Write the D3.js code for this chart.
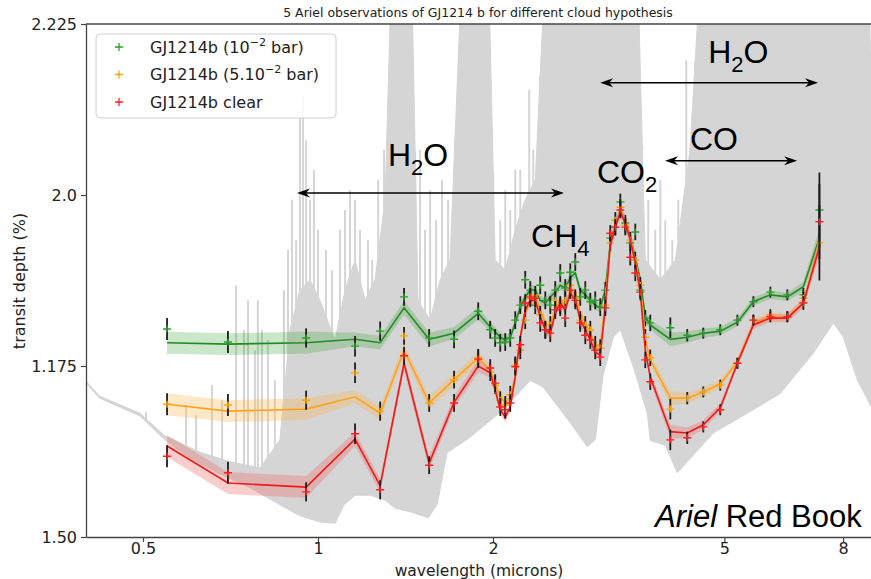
<!DOCTYPE html>
<html>
<head>
<meta charset="utf-8">
<script src="https://cdn.jsdelivr.net/npm/d3@7"></script>
<style>
  body { margin: 0; background: #fff; }
  svg { display: block; }
</style>
</head>
<body>
<svg id="chart" width="871" height="579"></svg>
<script>
// ---- Ariel spectral bins (microns) ----
const wavelengths = [
  0.550, 0.700, 0.954, 1.158, 1.279, 1.406, 1.553, 1.714, 1.886,
  1.978, 2.017, 2.058, 2.099, 2.141, 2.184, 2.228, 2.272, 2.318, 2.364, 2.411,
  2.460, 2.509, 2.559, 2.610, 2.662, 2.716, 2.770, 2.825, 2.882, 2.940, 2.998,
  3.058, 3.120, 3.182, 3.246, 3.311, 3.377, 3.444, 3.513, 3.584, 3.655, 3.728,
  4.036, 4.316, 4.599, 4.919, 5.264, 5.608, 5.998, 6.416, 6.835, 7.284
];

// ---- model transit depths (%) ----
const modelCloud1e2 = [
  1.784, 1.782, 1.784, 1.789, 1.784, 1.835, 1.789, 1.798, 1.827,
  1.807, 1.800, 1.792, 1.788, 1.792, 1.813, 1.836, 1.851, 1.861, 1.861, 1.846,
  1.842, 1.851, 1.858, 1.868, 1.864, 1.879, 1.886, 1.861, 1.854, 1.846, 1.839,
  1.835, 1.861, 1.930, 1.956, 1.978, 1.963, 1.939, 1.909, 1.876, 1.822, 1.810,
  1.789, 1.792, 1.798, 1.801, 1.814, 1.844, 1.854, 1.851, 1.866, 1.937
];
const modelCloud5e2 = [
  1.694, 1.684, 1.687, 1.705, 1.681, 1.773, 1.696, 1.730, 1.762,
  1.744, 1.725, 1.705, 1.696, 1.705, 1.734, 1.792, 1.827, 1.846, 1.851, 1.832,
  1.813, 1.807, 1.836, 1.846, 1.839, 1.861, 1.857, 1.827, 1.813, 1.798, 1.781,
  1.778, 1.846, 1.927, 1.956, 1.978, 1.962, 1.937, 1.905, 1.868, 1.788, 1.759,
  1.703, 1.703, 1.712, 1.724, 1.756, 1.813, 1.822, 1.822, 1.842, 1.927
];
const modelClear = [
  1.633, 1.579, 1.573, 1.643, 1.575, 1.754, 1.608, 1.697, 1.750,
  1.740, 1.715, 1.686, 1.675, 1.690, 1.734, 1.792, 1.832, 1.846, 1.846, 1.822,
  1.803, 1.798, 1.827, 1.842, 1.832, 1.857, 1.846, 1.817, 1.803, 1.788, 1.770,
  1.766, 1.835, 1.927, 1.953, 1.975, 1.959, 1.934, 1.901, 1.857, 1.773, 1.734,
  1.654, 1.652, 1.664, 1.689, 1.754, 1.810, 1.820, 1.820, 1.842, 1.924
];

// ---- model 1-sigma spread (shaded bands) ----
const modelSpread = [
  0.016, 0.016, 0.016, 0.010, 0.010, 0.010, 0.010, 0.009, 0.009,
  0.007, 0.007, 0.007, 0.007, 0.007, 0.007, 0.007, 0.007, 0.007, 0.007, 0.007,
  0.007, 0.007, 0.007, 0.007, 0.007, 0.007, 0.007, 0.007, 0.007, 0.007, 0.007,
  0.007, 0.007, 0.007, 0.007, 0.007, 0.007, 0.007, 0.007, 0.007, 0.007, 0.007,
  0.010, 0.008, 0.007, 0.006, 0.006, 0.006, 0.006, 0.006, 0.007, 0.014
];

// ---- simulated observations ----
const obsCloud1e2 = [
  1.804, 1.785, 1.791, 1.779, 1.801, 1.851, 1.791, 1.789, 1.830,
  1.803, 1.791, 1.784, 1.785, 1.791, 1.817, 1.839, 1.876, 1.861, 1.839, 1.868,
  1.846, 1.839, 1.861, 1.886, 1.864, 1.887, 1.902, 1.851, 1.861, 1.844, 1.846,
  1.836, 1.861, 1.937, 1.953, 1.990, 1.959, 1.930, 1.946, 1.861, 1.820, 1.813,
  1.806, 1.795, 1.798, 1.803, 1.817, 1.844, 1.858, 1.854, 1.854, 1.978
];
const obsCloud5e2 = [
  1.694, 1.693, 1.700, 1.740, 1.684, 1.794, 1.696, 1.730, 1.762,
  1.741, 1.722, 1.700, 1.693, 1.708, 1.751, 1.773, 1.817, 1.849, 1.854, 1.825,
  1.803, 1.810, 1.846, 1.839, 1.846, 1.868, 1.849, 1.817, 1.810, 1.803, 1.781,
  1.776, 1.839, 1.930, 1.963, 1.982, 1.956, 1.934, 1.905, 1.868, 1.792, 1.762,
  1.687, 1.703, 1.712, 1.722, 1.754, 1.817, 1.825, 1.822, 1.849, 1.930
];
const obsClear = [
  1.618, 1.594, 1.566, 1.651, 1.569, 1.765, 1.605, 1.696, 1.760,
  1.747, 1.725, 1.690, 1.686, 1.696, 1.749, 1.781, 1.842, 1.851, 1.849, 1.813,
  1.803, 1.798, 1.832, 1.836, 1.820, 1.861, 1.846, 1.813, 1.795, 1.788, 1.773,
  1.763, 1.835, 1.944, 1.953, 1.978, 1.953, 1.909, 1.886, 1.858, 1.759, 1.727,
  1.642, 1.645, 1.661, 1.686, 1.754, 1.817, 1.822, 1.822, 1.842, 1.961
];
const obsError = [
  0.016, 0.016, 0.014, 0.015, 0.014, 0.013, 0.013, 0.013, 0.013,
  0.013, 0.013, 0.013, 0.013, 0.013, 0.013, 0.013, 0.013, 0.013, 0.013, 0.013,
  0.013, 0.013, 0.013, 0.013, 0.013, 0.013, 0.013, 0.013, 0.013, 0.013, 0.013,
  0.013, 0.012, 0.012, 0.012, 0.012, 0.012, 0.012, 0.012, 0.012, 0.012, 0.012,
  0.015, 0.009, 0.008, 0.008, 0.008, 0.008, 0.008, 0.008, 0.010, 0.055
];

// ---- high-resolution spectrum (grey): solid envelope plus narrow lines ----
const specTopWl = [
  0.399, 0.421, 0.494, 0.545, 0.627, 0.706, 0.795, 0.860, 0.895, 0.931,
  0.969, 1.008, 1.070, 1.113, 1.158, 1.205, 1.253, 1.304, 1.335, 1.451,
  1.486, 1.559, 1.622, 1.687, 1.762, 1.969, 2.017, 2.099, 2.184, 2.272,
  2.364, 2.449, 3.555, 3.655, 3.879, 4.117, 4.363, 4.528, 8.878, 8.947
];
const specTopDepth = [
  1.728, 1.706, 1.681, 1.648, 1.624, 1.610, 1.601, 1.642, 1.803, 1.861,
  1.876, 1.846, 1.788, 1.861, 1.905, 1.846, 1.876, 1.993, 2.300, 2.300,
  1.846, 1.817, 1.876, 1.905, 2.300, 2.300, 1.905, 1.890, 1.949, 1.993,
  2.022, 2.300, 2.300, 1.905, 1.876, 1.905, 2.066, 2.300, 2.300, 2.124
];
const specBotWl = [
  0.399, 0.421, 0.494, 0.545, 0.602, 0.678, 0.764, 0.860, 0.931, 1.008,
  1.070, 1.109, 1.158, 1.229, 1.304, 1.357, 1.440, 1.547, 1.603, 1.667,
  1.827, 2.082, 2.318, 2.439, 2.716, 2.904, 2.998, 3.094, 3.220, 3.311,
  3.485, 3.684, 3.728, 3.956, 4.149, 4.785, 5.475, 6.241, 7.112, 7.698,
  8.010, 8.467, 8.947
];
const specBotDepth = [
  1.725, 1.703, 1.677, 1.642, 1.615, 1.592, 1.572, 1.547, 1.531, 1.522,
  1.520, 1.547, 1.561, 1.561, 1.554, 1.542, 1.537, 1.528, 1.547, 1.623,
  1.646, 1.686, 1.729, 1.719, 1.667, 1.632, 1.642, 1.737, 1.792, 1.803,
  1.749, 1.681, 1.641, 1.634, 1.594, 1.652, 1.681, 1.710, 1.769, 1.813,
  1.792, 1.729, 1.690
];
const lineWl = [
  0.506, 0.593, 0.617, 0.657, 0.684, 0.723, 0.746, 0.758, 0.779, 0.788,
  0.801, 0.820, 0.843, 0.874, 0.888, 0.902, 0.917, 0.931, 0.942, 0.954,
  0.969, 0.984, 1.000, 1.032, 1.057, 1.091, 1.113, 1.135, 1.158, 1.181,
  1.219, 1.239, 1.269, 1.299, 1.469, 1.498, 1.528, 1.559, 1.596, 1.634,
  1.674, 1.721, 2.001, 2.058, 2.099, 2.141, 2.184, 2.228, 2.308, 2.345,
  2.411, 3.612, 3.698, 3.802, 3.879, 3.956, 4.068, 4.165, 4.299, 4.368,
  4.456
];
const lineDepth = [
  1.683, 1.693, 1.678, 1.722, 1.700, 1.868, 1.803, 1.846, 1.773, 1.846,
  1.803, 1.788, 1.729, 1.861, 1.920, 1.993, 1.934, 2.124, 2.146, 2.080,
  1.993, 2.037, 1.949, 1.920, 1.890, 1.949, 1.978, 2.007, 1.993, 1.949,
  1.934, 1.905, 2.022, 2.066, 1.993, 2.066, 1.949, 2.007, 1.963, 2.022,
  1.993, 2.066, 1.993, 1.963, 2.007, 1.978, 2.037, 2.037, 2.154, 2.066,
  2.095, 2.066, 1.993, 1.949, 2.022, 1.963, 1.934, 1.993, 2.197, 2.022,
  2.110
];

// ---- axis ticks ----
const xTickValues = [0.5, 1, 2, 5, 8];
const xTickLabels = ["0.5", "1", "2", "5", "8"];
const yTickValues = [1.5, 1.75, 2.0, 2.25];
const yTickLabels = ["1.50", "1.175", "2.0", "2.225"];

// ---- molecular band annotations ----
const arrowFrom = [0.920, 3.952, 3.057];
const arrowTo = [2.649, 6.668, 7.244];
const arrowDepth = [2.003, 2.050, 2.164];

// ---- drawing ----
const svg = d3.select("#chart");
const plotL = 86, plotR = 871, plotT = 24, plotB = 537;

const x = d3.scaleLog().domain([0.399, 8.935]).range([plotL, plotR]);
const y = d3.scaleLinear().domain([1.5, 2.25]).range([plotB, plotT]);

svg.append("defs").append("clipPath").attr("id", "plotClip")
  .append("rect").attr("x", plotL).attr("y", plotT)
  .attr("width", plotR - plotL).attr("height", plotB - plotT);

const plot = svg.append("g").attr("clip-path", "url(#plotClip)");
const grey = "#d5d5d5";

// solid part of the high-resolution spectrum
const specPts = specTopWl.map((w, i) => [w, specTopDepth[i]])
  .concat(specBotWl.map((w, i) => [w, specBotDepth[i]]).reverse());
plot.append("path")
  .attr("d", d3.line().x(d => x(d[0])).y(d => y(d[1]))(specPts) + "Z")
  .attr("fill", grey).attr("stroke", grey).attr("stroke-width", 1);

// narrow absorption lines rising from the solid envelope
const topEnvelope = d3.scaleLog().domain(specTopWl).range(specTopDepth);
plot.append("g").selectAll("line").data(lineWl).join("line")
  .attr("x1", d => x(d)).attr("x2", d => x(d))
  .attr("y1", d => y(topEnvelope(d)) + 2)
  .attr("y2", (d, i) => y(lineDepth[i]))
  .attr("stroke", grey).attr("stroke-width", 2);

const series = [
  { label: ["GJ1214b (10", "\u22122", " bar)"], model: modelCloud1e2, obs: obsCloud1e2,
    line: "#238b23", band: "#2ca02c", bandOpacity: 0.25, marker: "#2ca02c" },
  { label: ["GJ1214b (5.10", "\u22122", " bar)"], model: modelCloud5e2, obs: obsCloud5e2,
    line: "#ffa31a", band: "#ffb347", bandOpacity: 0.3, marker: "#ffa500" },
  { label: ["GJ1214b clear"], model: modelClear, obs: obsClear,
    line: "#ee1a1a", band: "#f07070", bandOpacity: 0.35, marker: "#ff2020" }
];

series.forEach(s => {
  const idx = d3.range(wavelengths.length);
  const band = d3.area()
    .x(i => x(wavelengths[i]))
    .y0(i => y(s.model[i] - modelSpread[i]))
    .y1(i => y(s.model[i] + modelSpread[i]));
  plot.append("path").attr("d", band(idx))
    .attr("fill", s.band).attr("fill-opacity", s.bandOpacity);

  const line = d3.line().x(i => x(wavelengths[i])).y(i => y(s.model[i]));
  plot.append("path").attr("d", line(idx))
    .attr("fill", "none").attr("stroke", s.line).attr("stroke-width", 1.6);

  const pts = plot.append("g");
  idx.forEach(i => {
    const px = x(wavelengths[i]);
    pts.append("line")
      .attr("x1", px).attr("x2", px)
      .attr("y1", y(s.obs[i] - obsError[i])).attr("y2", y(s.obs[i] + obsError[i]))
      .attr("stroke", "#1c1c1c").attr("stroke-width", 1.8);
    const py = y(s.obs[i]);
    pts.append("path")
      .attr("d", `M${px - 4},${py}H${px + 4}M${px},${py - 3.5}V${py + 3.5}`)
      .attr("stroke", s.marker).attr("stroke-width", 1.4).attr("fill", "none");
  });
});

// annotations
const ann = svg.append("g").attr("font-family", "'Liberation Sans', Arial, sans-serif").attr("fill", "#000");

arrowFrom.forEach((w, i) => {
  const x1 = x(w), x2 = x(arrowTo[i]), yy = y(arrowDepth[i]);
  ann.append("line").attr("x1", x1 + 6).attr("x2", x2 - 6).attr("y1", yy).attr("y2", yy)
    .attr("stroke", "#000").attr("stroke-width", 1.6);
  ann.append("path")
    .attr("d", `M${x1},${yy}L${x1 + 13},${yy - 4.5}L${x1 + 9},${yy}L${x1 + 13},${yy + 4.5}Z`)
    .attr("fill", "#000");
  ann.append("path")
    .attr("d", `M${x2},${yy}L${x2 - 13},${yy - 4.5}L${x2 - 9},${yy}L${x2 - 13},${yy + 4.5}Z`)
    .attr("fill", "#000");
});

function molecule(w, depth, main, sub, tail) {
  const t = ann.append("text").attr("x", x(w)).attr("y", y(depth)).attr("font-size", 32);
  t.append("tspan").text(main);
  if (sub) t.append("tspan").attr("font-size", 22).attr("dy", 9).text(sub);
  if (tail) t.append("tspan").attr("dy", -9).text(tail);
}
molecule(1.319, 2.043, "H", "2", "O");
molecule(2.325, 1.924, "CH", "4", null);
molecule(3.019, 2.017, "CO", "2", null);
molecule(4.363, 2.066, "CO", null, null);
molecule(4.688, 2.193, "H", "2", "O");

const rb = ann.append("text").attr("x", 655).attr("y", 527).attr("font-size", 31);
rb.append("tspan").attr("font-style", "italic").text("Ariel");
rb.append("tspan").text(" Red Book");

// axes
const font = "'DejaVu Sans', sans-serif";
const yAxis = svg.append("g").attr("transform", `translate(${plotL},0)`)
  .call(d3.axisLeft(y).tickValues(yTickValues).tickFormat((d, i) => yTickLabels[i]).tickSize(5).tickSizeOuter(0));
const xAxis = svg.append("g").attr("transform", `translate(0,${plotB})`)
  .call(d3.axisBottom(x).tickValues(xTickValues).tickFormat((d, i) => xTickLabels[i]).tickSize(5).tickSizeOuter(0));
[yAxis, xAxis].forEach(a => {
  a.selectAll("text").attr("font-family", font).attr("font-size", 16).attr("fill", "#222");
  a.select(".domain").attr("stroke", "#444").attr("stroke-width", 1.3);
  a.selectAll(".tick line").attr("stroke", "#444").attr("stroke-width", 1.2);
});
yAxis.selectAll("text").attr("dx", -1);
xAxis.selectAll("text").attr("y", 6).attr("dy", "0.71em");

svg.append("line").attr("x1", plotL).attr("x2", plotR).attr("y1", plotT).attr("y2", plotT)
  .attr("stroke", "#444").attr("stroke-width", 1.3);

svg.append("text").attr("x", 479).attr("y", 576).attr("text-anchor", "middle")
  .attr("font-family", font).attr("font-size", 15.5).attr("fill", "#222")
  .text("wavelength (microns)");
svg.append("text").attr("transform", "translate(25,281) rotate(-90)").attr("text-anchor", "middle")
  .attr("font-family", font).attr("font-size", 16).attr("fill", "#222")
  .text("transit depth (%)");
svg.append("text").attr("x", 478).attr("y", 17).attr("text-anchor", "middle")
  .attr("font-family", font).attr("font-size", 12.5).attr("fill", "#222")
  .text("5 Ariel observations of GJ1214 b for different cloud hypothesis");

// legend
const leg = svg.append("g");
leg.append("rect").attr("x", 96).attr("y", 34).attr("width", 240).attr("height", 84).attr("rx", 4)
  .attr("fill", "#fff").attr("fill-opacity", 0.85).attr("stroke", "#d0d0d0");
series.forEach((s, i) => {
  const cy = 47 + i * 27.5;
  leg.append("path").attr("d", `M115,${cy}H123M119,${cy - 4}V${cy + 4}`)
    .attr("stroke", s.marker).attr("stroke-width", 1.3);
  const t = leg.append("text").attr("x", 150).attr("y", cy + 5.5)
    .attr("font-family", font).attr("font-size", 16).attr("fill", "#222");
  t.append("tspan").text(s.label[0]);
  if (s.label.length > 1) {
    t.append("tspan").attr("font-size", 11).attr("dy", -7).text(s.label[1]);
    t.append("tspan").attr("dy", 7).text(s.label[2]);
  }
});
</script>
</body>
</html>
